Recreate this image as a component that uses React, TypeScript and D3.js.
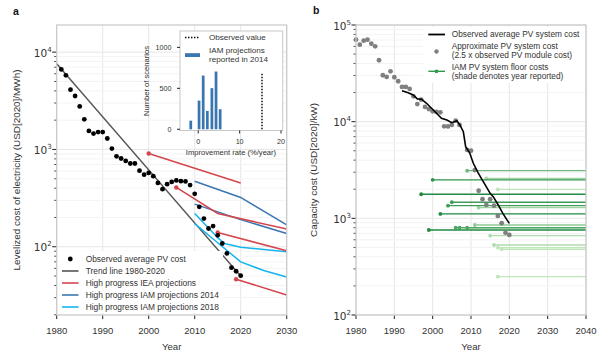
import React from 'react';
import * as d3 from 'd3';

const FONT = "'Liberation Sans', Arial, sans-serif";
const MATH = "'DejaVu Sans', sans-serif";
const TXT = '#333';
const FRAME = '#c8c8c8';

// ---- panel a: levelized cost of electricity ----
const lcoeYears = [1981, 1982, 1983, 1984, 1985, 1986, 1987, 1988, 1989, 1990,
  1991, 1992, 1993, 1994, 1995, 1996, 1997, 1998, 1999, 2000,
  2001, 2002, 2003, 2004, 2005, 2006, 2007, 2008, 2009, 2010,
  2011, 2012, 2013, 2014, 2015, 2016, 2017, 2018, 2019, 2020];
const lcoeValues = [6640, 5770, 4110, 3540, 2770, 2040, 1550, 1455, 1510, 1510,
  1295, 1020, 850, 807, 763, 717, 717, 605, 550, 574,
  531, 453, 391, 440, 464, 480, 472, 469, 430, 350,
  257, 195, 154, 163, 131, 108, 85.5, 61, 56, 50.4];

const trendYears = [1980, 2020];
const trendValues = [7600, 50];

const ieaYears = [[2000, 2020], [2006, 2015, 2030], [2015, 2030], [2019, 2030]];
const ieaValues = [[908, 453], [407, 220, 152], [140, 91], [46.4, 32]];

const iam14Years = [[2010, 2020, 2030], [2010, 2020, 2030]];
const iam14Values = [[472, 321, 168], [274, 190, 137]];

const iam18Years = [[2010, 2015, 2016.5, 2020, 2030], [2010, 2015, 2020, 2025, 2030]];
const iam18Values = [[220, 124, 108, 99, 89], [173, 110, 70, 57, 49]];

const yearTicksA = [1980, 1990, 2000, 2010, 2020, 2030];

// inset histogram
const histRates = [-1.8, 0.2, 1.2, 2.2, 3.3, 4.3, 5.3];
const histCounts = [105, 350, 656, 224, 502, 705, 245];
const observedRate = 15.4;
const observedHeight = 680;
const insetXTicks = [0, 10, 20];
const insetYTicks = [0, 500, 1000];

const legendA = [
  'Observed average PV cost',
  'Trend line 1980-2020',
  'High progress IEA projections',
  'High progress IAM projections 2014',
  'High progress IAM projections 2018',
];

// ---- panel b: capacity cost ----
const systemYears = [1992, 1993.6, 1994.9, 1996, 1997.1, 1998.4, 1999.7, 2001, 2002.3, 2003.7,
  2005, 2006.3, 2007.1, 2008, 2008.6, 2009.7, 2010.6, 2011.9, 2013.2, 2015,
  2015.8, 2017.1, 2018.3, 2019.3, 2020];
const systemValues = [20900, 19950, 18900, 17200, 17060, 15500, 13760, 12220, 10840, 10420,
  9770, 10240, 9250, 7880, 5510, 4710, 3715, 2930, 2395, 1816,
  1675, 1375, 1127, 977, 888];

const approxYears = [1980, 1981, 1982, 1983, 1984, 1985, 1986, 1987, 1988, 1989,
  1990, 1991, 1992, 1993, 1994, 1995, 1996, 1997, 1998, 1999,
  2000, 2001, 2002, 2003, 2004, 2005, 2006, 2007, 2009, 2010,
  2011, 2012, 2013, 2014, 2015, 2016, 2017, 2018, 2019, 2020];
const approxValues = [70500, 62600, 68800, 70500, 64100, 60200, 43200, 30200, 29000, 33200,
  28800, 26200, 22900, 22900, 21800, 18300, 15200, 16900, 14200, 13500,
  12800, 12600, 12500, 8960, 8930, 9250, 10240, 9250, 5100, 5010,
  3160, 1930, 1575, 1375, 1575, 1353, 1060, 890, 711, 673];

const floorStartYears = [1997, 1999, 2000, 2002, 2004, 2005, 2006, 2007, 2009, 2009,
  2011, 2012, 2014, 2015, 2016, 2017, 2017, 2018, 2017];
const floorValues = [1775, 757, 2500, 1110, 1353, 1466, 800, 800, 800, 3110,
  853, 1290, 2595, 662, 530, 1996, 497, 479, 249];
const floorReported = [2010, 2010, 2011, 2010, 2012, 2012, 2013, 2013, 2013, 2015,
  2017, 2018, 2018, 2019, 2019, 2020, 2020, 2020, 2020];

const yearTicksB = [1980, 1990, 2000, 2010, 2020, 2030, 2040];

const COL_IEA = '#d5464c';
const COL_IAM14 = '#3a76b0';
const COL_IAM18 = '#13b5ef';

function pairs(xs: number[], ys: number[]): [number, number][] {
  return xs.map((x, i) => [x, ys[i]]);
}

function LogYAxis({ y, x0, x1 }: { y: d3.ScaleLogarithmic<number, number>; x0: number; x1: number }) {
  const ticks = y.ticks();
  return (
    <g>
      {ticks.map((t, i) => {
        const major = Math.abs(Math.log10(t) - Math.round(Math.log10(t))) < 1e-6;
        return (
          <g key={i}>
            <line x1={x0} x2={x1} y1={y(t)} y2={y(t)} stroke={major ? '#e6e6e6' : '#f3f3f3'} strokeWidth={1} />
            <line x1={x0} x2={x0 - (major ? 4.5 : 2.5)} y1={y(t)} y2={y(t)} stroke="#222" strokeWidth={major ? 1 : 0.8} />
            {major && (
              <text x={x0 - 5} y={y(t) + 4.5} textAnchor="end" fontFamily={MATH} fontSize={10.5} fill={TXT}>
                10<tspan dy={-5} fontSize={7}>{Math.round(Math.log10(t))}</tspan>
              </text>
            )}
          </g>
        );
      })}
    </g>
  );
}

function YearAxis({ x, ticks, y0, y1 }: { x: d3.ScaleLinear<number, number>; ticks: number[]; y0: number; y1: number }) {
  return (
    <g>
      {ticks.map((t) => (
        <g key={t}>
          <line x1={x(t)} x2={x(t)} y1={y1} y2={y0} stroke="#e6e6e6" strokeWidth={1} />
          <line x1={x(t)} x2={x(t)} y1={y0} y2={y0 + 4} stroke="#222" strokeWidth={1} />
          <text x={x(t)} y={y0 + 18.5} textAnchor="middle" fontFamily={FONT} fontSize={9.5} fill={TXT}>{t}</text>
        </g>
      ))}
    </g>
  );
}

export default function App() {
  const xa = d3.scaleLinear().domain([1980, 2030]).range([56.7, 286.7]);
  const ya = d3.scaleLog().domain([19.9, 19000]).range([315, 25]);
  const xb = d3.scaleLinear().domain([1980, 2040]).range([356, 586]);
  const yb = d3.scaleLog().domain([100, 1e5]).range([315, 25]);
  const xi = d3.scaleLinear().domain([-4.4, 20.4]).range([180, 282.7]);
  const yi = d3.scaleLinear().domain([-15, 1200]).range([130.5, 31]);
  const shade = d3.scaleLinear<string>().domain([2010, 2020]).range(['#1f8a40', '#bfe6b8']);

  const lineA = d3.line<[number, number]>().x(d => xa(d[0])).y(d => ya(d[1]));
  const lineB = d3.line<[number, number]>().x(d => xb(d[0])).y(d => yb(d[1]));

  const [ax0, ax1] = xa.range();
  const [ay0, ay1] = ya.range();
  const [bx0, bx1] = xb.range();
  const [by0, by1] = yb.range();

  const projGroup = (years: number[][], values: number[][], color: string, marker: boolean) =>
    years.map((ys, i) => (
      <g key={color + i}>
        <path d={lineA(pairs(ys, values[i])) || ''} fill="none" stroke={color} strokeWidth={1.5} />
        {marker && <circle cx={xa(ys[0])} cy={ya(values[i][0])} r={2.2} fill={color} />}
      </g>
    ));

  const legendColors = [null, '#555', COL_IEA, COL_IAM14, COL_IAM18];
  const legendRowY = [259, 271, 283, 295, 307];

  const floorOrder = d3.range(floorStartYears.length).sort((a, b) => floorReported[b] - floorReported[a]);

  return (
    <div style={{ position: 'absolute', left: 0, top: 0 }}>
      <svg width={600} height={360} style={{ display: 'block', background: '#fff' }}>
        {/* ================= panel a ================= */}
        <text x={13} y={14.5} fontFamily={FONT} fontWeight="bold" fontSize={10.5} fill="#111">a</text>
        <YearAxis x={xa} ticks={yearTicksA} y0={ay0} y1={ay1} />
        <LogYAxis y={ya} x0={ax0} x1={ax1} />

        <path d={lineA(pairs(trendYears, trendValues)) || ''} fill="none" stroke="#555" strokeWidth={1.4} />
        {projGroup(iam14Years, iam14Values, COL_IAM14, false)}
        {projGroup(iam18Years, iam18Values, COL_IAM18, false)}
        {projGroup(ieaYears, ieaValues, COL_IEA, true)}
        {lcoeYears.map((yr, i) => (
          <circle key={yr} cx={xa(yr)} cy={ya(lcoeValues[i])} r={2.4} fill="#000" />
        ))}

        {/* legend a */}
        <rect x={58} y={251} width={165} height={62} fill="#fff" />
        {legendA.map((label, i) => (
          <g key={label}>
            {i === 0 ? (
              <circle cx={70.3} cy={legendRowY[i]} r={2.4} fill="#000" />
            ) : (
              <line x1={62} x2={78.5} y1={legendRowY[i]} y2={legendRowY[i]} stroke={legendColors[i] as string} strokeWidth={1.6} />
            )}
            <text x={85.7} y={legendRowY[i] + 3} fontFamily={FONT} fontSize={8.4} fill={TXT}>{label}</text>
          </g>
        ))}

        {/* inset */}
        <rect x={xi.range()[0]} y={yi.range()[1]} width={xi.range()[1] - xi.range()[0]} height={yi.range()[0] - yi.range()[1]}
          fill="#fff" stroke={FRAME} strokeWidth={1} />
        {histRates.map((r, i) => (
          <rect key={i} x={xi(r - 0.33)} y={yi(histCounts[i])} width={xi(r + 0.33) - xi(r - 0.33)}
            height={yi(0) - yi(histCounts[i])} fill="#3a76b0" />
        ))}
        <line x1={xi(observedRate)} x2={xi(observedRate)} y1={yi(0)} y2={yi(observedHeight)}
          stroke="#000" strokeWidth={1.4} strokeDasharray="1.4,1.6" />
        {insetYTicks.map(t => (
          <g key={t}>
            <line x1={180} x2={177} y1={yi(t)} y2={yi(t)} stroke="#222" />
            <text x={171.5} y={yi(t) + 2.5} textAnchor="end" fontFamily={FONT} fontSize={7.2} fill={TXT}>{t}</text>
          </g>
        ))}
        {insetXTicks.map(t => (
          <g key={t}>
            <line x1={xi(t)} x2={xi(t)} y1={130.5} y2={133.5} stroke="#222" />
            <text x={xi(t)} y={144} textAnchor="middle" fontFamily={FONT} fontSize={7.2} fill={TXT}>{t}</text>
          </g>
        ))}
        <text x={231} y={154.5} textAnchor="middle" fontFamily={FONT} fontSize={7.6} fill={TXT}>Improvement rate (%/year)</text>
        <text transform="translate(148.5,81) rotate(-90)" textAnchor="middle" fontFamily={FONT} fontSize={7.6} fill={TXT}>Number of scenarios</text>
        {/* inset legend */}
        <line x1={185} x2={200} y1={37.5} y2={37.5} stroke="#000" strokeWidth={1.4} strokeDasharray="1.4,1.6" />
        <text x={209} y={40.3} fontFamily={FONT} fontSize={8.1} fill={TXT}>Observed value</text>
        <rect x={185} y={53.2} width={15} height={3.8} fill="#3a76b0" />
        <text x={209} y={52.8} fontFamily={FONT} fontSize={8.1} fill={TXT}>IAM projections</text>
        <text x={209} y={61.8} fontFamily={FONT} fontSize={8.1} fill={TXT}>reported in 2014</text>

        <rect x={ax0} y={ay1} width={ax1 - ax0} height={ay0 - ay1} fill="none" stroke={FRAME} strokeWidth={1.2} />
        <text x={(ax0 + ax1) / 2} y={350} textAnchor="middle" fontFamily={FONT} fontSize={9.7} fill={TXT}>Year</text>
        <text transform="translate(19.5,170) rotate(-90)" textAnchor="middle" fontFamily={FONT} fontSize={9.9} fill={TXT}>
          Levelized cost of electricity (USD[2020]/MWh)
        </text>

        {/* ================= panel b ================= */}
        <text x={313} y={13.5} fontFamily={FONT} fontWeight="bold" fontSize={10.5} fill="#111">b</text>
        <YearAxis x={xb} ticks={yearTicksB} y0={by0} y1={by1} />
        <LogYAxis y={yb} x0={bx0} x1={bx1} />

        {floorOrder.map(i => (
          <g key={i}>
            <line x1={xb(floorStartYears[i])} x2={xb(2040)} y1={yb(floorValues[i])} y2={yb(floorValues[i])}
              stroke={shade(floorReported[i])} strokeWidth={1.3} />
            <circle cx={xb(floorStartYears[i])} cy={yb(floorValues[i])} r={1.9} fill={shade(floorReported[i])} />
          </g>
        ))}
        {approxYears.map((yr, i) => (
          <circle key={yr} cx={xb(yr)} cy={yb(approxValues[i])} r={2.4} fill="#7f7f7f" />
        ))}
        <path d={lineB(pairs(systemYears, systemValues)) || ''} fill="none" stroke="#000" strokeWidth={1.6} />

        {/* legend b */}
        <rect x={423} y={27} width={162} height={56} fill="#fff" />
        <line x1={428.3} x2={445} y1={34.5} y2={34.5} stroke="#000" strokeWidth={1.8} />
        <text x={451.7} y={37.3} fontFamily={FONT} fontSize={8.3} fill={TXT}>Observed average PV system cost</text>
        <circle cx={436.5} cy={51.5} r={2.2} fill="#7f7f7f" />
        <text x={451.7} y={48.8} fontFamily={FONT} fontSize={8.3} fill={TXT}>Approximate PV system cost</text>
        <text x={451.7} y={57.6} fontFamily={FONT} fontSize={8.3} fill={TXT}>(2.5 x observed PV module cost)</text>
        <line x1={428.3} x2={445} y1={71.3} y2={71.3} stroke="#2e9a4a" strokeWidth={1.4} />
        <circle cx={436.5} cy={71.3} r={1.9} fill="#2e9a4a" />
        <text x={451.7} y={70.3} fontFamily={FONT} fontSize={8.3} fill={TXT}>IAM PV system floor costs</text>
        <text x={451.7} y={79.1} fontFamily={FONT} fontSize={8.3} fill={TXT}>(shade denotes year reported)</text>

        <rect x={bx0} y={by1} width={bx1 - bx0} height={by0 - by1} fill="none" stroke={FRAME} strokeWidth={1.2} />
        <text x={(bx0 + bx1) / 2} y={350} textAnchor="middle" fontFamily={FONT} fontSize={9.7} fill={TXT}>Year</text>
        <text transform="translate(317,170) rotate(-90)" textAnchor="middle" fontFamily={FONT} fontSize={9.9} fill={TXT}>
          Capacity cost (USD[2020]/kW)
        </text>
      </svg>
    </div>
  );
}
